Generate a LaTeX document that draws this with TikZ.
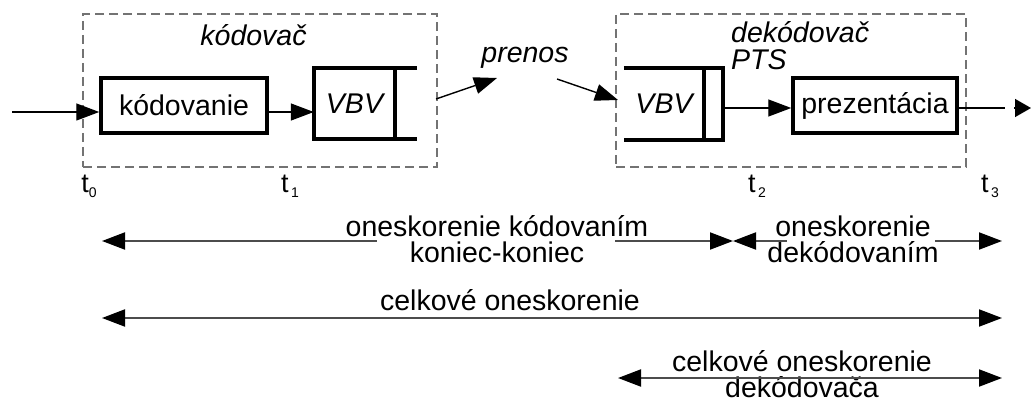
\documentclass[tikz,border=0pt]{standalone}
\usepackage{fontspec}
\setmainfont{Liberation Sans}
\usetikzlibrary{arrows.meta}
\tikzset{
  txt/.style={font=\fontsize{28.5}{25}\selectfont, inner sep=0pt, align=center},
  btxt/.style={txt, anchor=base},
  itxt/.style={txt, font=\fontsize{28.5}{28}\selectfont\itshape},
  blk/.style={draw, line width=3.5pt, inner sep=0pt},
  grp/.style={draw=black!55, line width=1.8pt, dash pattern=on 9pt off 5pt, inner sep=0pt},
  conn/.style={line width=1.4pt, -{Triangle[length=23pt,width=17pt]}},
  buf/.style={line width=3.5pt},
  meas/.style={line width=2pt, draw=black!70},
  hd/.tip={Triangle[length=23pt,width=17pt,color=black]},
  tlab/.style={font=\fontsize{27}{27}\selectfont, inner sep=0pt},
}
\newcommand{\tsub}[1]{t\raisebox{-5pt}{\fontsize{14}{14}\selectfont #1}}
\begin{document}
\begin{tikzpicture}[x=1pt,y=-1pt]
\useasboundingbox (0,0) rectangle (1031,401);
% group boxes
\node[grp, minimum width=354pt, minimum height=153pt] (enc) at (260,90.5) {};
\node[grp, minimum width=350pt, minimum height=153pt] (dec) at (791,90.5) {};
\node[itxt] (enclab) at (253.5,35) {kódovač};
\node[itxt, anchor=west] (declab) at (731,32) {dekódovač};
\node[itxt, anchor=west] (pts) at (731,60) {PTS};
% encoder blocks
\node[blk, txt, minimum width=166pt, minimum height=55pt] (kod) at (184,105.5) {kódovanie};
\node[itxt, minimum width=81pt, minimum height=71pt] (evbv) at (354.5,103.5) {VBV};
\draw[buf] ([xshift=22pt]evbv.north east) -- (evbv.north west) -- (evbv.south west) -- ([xshift=22pt]evbv.south east);
\draw[buf] (evbv.north east) -- (evbv.south east);
% decoder blocks
\node[itxt, minimum width=80pt, minimum height=72pt] (dvbv) at (664,104) {VBV};
\draw[buf] (dvbv.north west) -- ([xshift=19pt]dvbv.north east) -- ([xshift=19pt]dvbv.south east) -- (dvbv.south west);
\draw[buf] (dvbv.north east) -- (dvbv.south east);
\coordinate (dvbvout) at ([xshift=19pt]dvbv.east);
\node[blk, txt, minimum width=164pt, minimum height=55pt] (prez) at (875,105.5) {prezentácia};
% connectors
\coordinate (in) at (12,112);
\draw[conn] (in) -- (kod.west |- in);
\draw[conn] (kod.east |- in) -- (evbv.west |- in);
\coordinate (eo) at (436,99);
\coordinate (eot) at (497,78);
\draw[conn] (eo) -- (eot);
\node[itxt] (prenos) at (525,58) {prenos};
\coordinate (di) at (557,79);
\coordinate (dit) at (618,100);
\draw[conn] (di) -- (dit);
\draw[conn] (dvbvout |- 0,108) -- (prez.west |- 0,108);
\coordinate (out) at (1031,108);
\draw[line width=1.4pt] (prez.east |- out) -- (1005,108);
\draw[line width=1.4pt, -{Triangle[length=16pt,width=18pt]}] (1014,108) -- (out);
% time labels
\node[tlab] (t0) at (89,186) {\tsub{0}};
\node[tlab] (t1) at (290,186) {\tsub{\,1}};
\node[tlab] (t2) at (757,186) {\tsub{\,2}};
\node[tlab] (t3) at (990,186) {\tsub{\,3}};
% measurement row 1
\coordinate (a0) at (102,241);
\coordinate (a1) at (377,241);
\coordinate (a2) at (615,241);
\coordinate (a3) at (733,241);
\coordinate (a4) at (787,241);
\coordinate (a5) at (935,241);
\coordinate (a6) at (1002,241);
\node[btxt] (l1a) at (497,236) {oneskorenie kódovaním};
\node[btxt] (l1b) at (497,262) {koniec-koniec};
\node[btxt] (l2a) at (853,236) {oneskorenie};
\node[btxt] (l2b) at (853,262) {dekódovaním};
\draw[meas, {hd}-] (a0) -- (a1);
\draw[meas, -{hd}] (a2) -- (a3);
\draw[meas, {hd}-] (a3) -- (a4);
\draw[meas, -{hd}] (a5) -- (a6);
% row 2
\coordinate (b0) at (102,318);
\coordinate (b1) at (1002,318);
\node[btxt] (l3) at (510,310) {celkové oneskorenie};
\draw[meas, {hd}-{hd}] (b0) -- (b1);
% row 3
\coordinate (c0) at (618,378);
\coordinate (c1) at (1002,378);
\node[btxt] (l4a) at (802,371) {celkové oneskorenie};
\node[btxt] (l4b) at (802,397) {dekódovača};
\draw[meas, {hd}-{hd}] (c0) -- (c1);
\end{tikzpicture}
\end{document}
